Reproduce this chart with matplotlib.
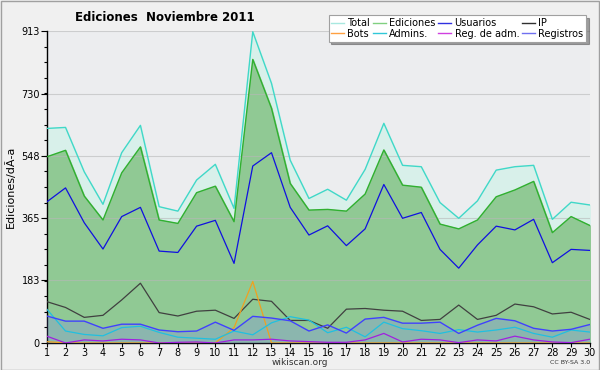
import matplotlib
matplotlib.use("Agg")
import matplotlib.pyplot as plt
from matplotlib.lines import Line2D
from matplotlib.patches import Rectangle
from matplotlib.ticker import MultipleLocator

days = list(range(1, 31))

total = [628, 631, 501, 406, 557, 637, 399, 386, 477, 523, 394, 911, 760, 535, 423,
         450, 418, 508, 643, 520, 516, 411, 365, 416, 506, 516, 520, 362, 412, 404]
ediciones = [545, 564, 430, 360, 498, 574, 360, 350, 440, 459, 355, 830, 687, 467, 389,
             391, 386, 436, 565, 462, 456, 348, 334, 360, 428, 448, 473, 323, 370, 344]
usuarios = [413, 454, 352, 275, 370, 397, 269, 265, 342, 359, 233, 518, 557, 397, 316,
            343, 285, 334, 464, 365, 382, 274, 219, 287, 342, 331, 362, 235, 274, 271]
ip = [121, 104, 75, 81, 126, 175, 89, 79, 93, 96, 72, 128, 122, 66, 66,
      43, 99, 101, 96, 93, 66, 69, 111, 69, 81, 114, 106, 85, 90, 69]
bots = [4, 0, 0, 0, 0, 0, 0, 0, 0, 0, 45, 180, 0, 0, 0,
        0, 0, 0, 0, 0, 0, 0, 0, 0, 0, 0, 0, 0, 0, 0]
admins = [99, 35, 25, 21, 45, 49, 31, 17, 14, 11, 35, 24, 59, 77, 67,
          30, 46, 18, 61, 42, 36, 28, 39, 32, 38, 46, 28, 17, 38, 32]
reg_adm = [20, 0, 9, 6, 11, 9, 0, 2, 3, 0, 9, 9, 11, 6, 4,
           2, 2, 9, 28, 3, 11, 9, 1, 9, 6, 20, 9, 3, 1, 11]
registros = [79, 64, 64, 43, 55, 55, 38, 33, 35, 61, 37, 78, 73, 65, 35,
             53, 29, 70, 75, 58, 58, 61, 28, 52, 72, 65, 43, 35, 40, 54]

y_ticks = [0, 183, 365, 548, 730, 913]

fig = plt.figure(figsize=(6, 3.7), dpi=100, facecolor="#f0f0f0")
ax = fig.add_axes([0.078, 0.073, 0.905, 0.843])
ax.set_facecolor("#ecedef")

# filled areas
ax.fill_between(days, total, color="#d8f0ea", zorder=1)
ax.fill_between(days, ediciones, color="#90c994", zorder=2)
ax.fill_between(days, registros, color="#8080ff", alpha=0.25, lw=0, zorder=3)

for v in y_ticks[1:]:
    ax.axhline(v, color="#b8b8b8", lw=0.8, alpha=0.6, zorder=2.5)

ax.plot(days, total, color="#40d8c8", lw=1, zorder=4)
ax.plot(days, ediciones, color="#30b030", lw=1, zorder=4)
ax.plot(days, usuarios, color="#1010e0", lw=0.9, zorder=4)
ax.plot(days, ip, color="#404040", lw=0.9, zorder=4)
ax.plot(days, bots, color="#f0a020", lw=0.9, zorder=4)
ax.plot(days, admins, color="#20c0e0", lw=0.9, zorder=4)
ax.plot(days, reg_adm, color="#a020e0", lw=0.9, zorder=4)
ax.plot(days, registros, color="#4040ff", lw=1, zorder=4)

ax.set_xlim(1, 30)
ax.set_ylim(0, 913)
ax.set_xticks(days)
ax.set_yticks(y_ticks)
ax.yaxis.set_minor_locator(MultipleLocator(913 / 20))
ax.tick_params(axis="both", labelsize=7, length=4, width=0.8, pad=1)
ax.tick_params(axis="x", length=3, pad=0.5)
ax.tick_params(axis="y", which="minor", length=2.5, width=0.8)
for s in ["top", "right"]:
    ax.spines[s].set_visible(False)
ax.spines["left"].set_linewidth(1)
ax.spines["bottom"].set_linewidth(1)
ax.set_ylabel("Ediciones/d\u00c3\u00ada", fontsize=8, labelpad=4)

fig.text(0.275, 0.952, "Ediciones  Noviembre 2011", ha="center", va="center",
         fontsize=8.5, fontweight="bold")
fig.text(0.5, 0.02, "wikiscan.org", ha="center", va="center", fontsize=6.5, color="#333333")
fig.text(0.983, 0.02, "CC BY-SA 3.0", ha="right", va="center", fontsize=4.5, color="#333333")

# legend (column-major ordering)
labels = ["Total", "Bots", "Ediciones", "Admins.", "Usuarios", "Reg. de adm.", "IP", "Registros"]
colors = ["#a8e8e0", "#ffa040", "#80d080", "#30c8d8", "#3030e0", "#d040e0", "#303030", "#7070f0"]
handles = [Line2D([], [], color=c, lw=1) for c in colors]
leg = fig.legend(handles, labels, ncol=4, loc="upper right", bbox_to_anchor=(0.985, 0.972),
                 fontsize=7, handlelength=1.3, handletextpad=0.35, columnspacing=0.3,
                 labelspacing=0.05, borderpad=0.3, fancybox=False, shadow=True,
                 framealpha=1, edgecolor="#a0a0a0", frameon=True)
leg.get_frame().set_linewidth(0.8)

fig.patches.append(Rectangle((0.001, 0.001), 0.997, 0.996, transform=fig.transFigure,
                             fill=False, edgecolor="#a0a0a0", lw=1))

fig.savefig("out.png", dpi=100, facecolor=fig.get_facecolor())
